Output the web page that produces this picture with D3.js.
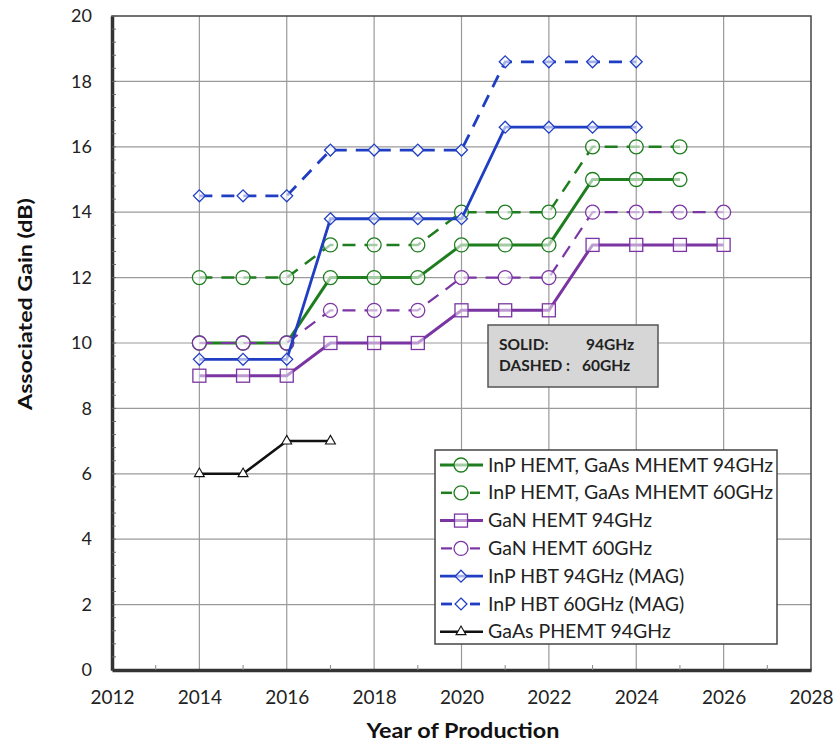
<!DOCTYPE html>
<html><head><meta charset="utf-8">
<script src="https://cdn.jsdelivr.net/npm/d3@7"></script>
<style>body{margin:0;background:#fff;} text{font-family:Lato,"Open Sans",sans-serif;}</style>
</head><body>
<svg id="c" width="836" height="748"></svg>
<script>
const years = [2014,2015,2016,2017,2018,2019,2020,2021,2022,2023,2024,2025,2026];
const inpHemt94 = [10,10,10,12,12,12,13,13,13,15,15,15];
const inpHemt60 = [12,12,12,13,13,13,14,14,14,16,16,16];
const gan94 = [9,9,9,10,10,10,11,11,11,13,13,13,13];
const gan60 = [10,10,10,11,11,11,12,12,12,14,14,14,14];
const inpHbt94 = [9.5,9.5,9.5,13.8,13.8,13.8,13.8,16.6,16.6,16.6,16.6];
const inpHbt60 = [14.5,14.5,14.5,15.9,15.9,15.9,15.9,18.6,18.6,18.6,18.6];
const gaasPhemt94 = [6,6,7,7];
const xTicks = [2012,2014,2016,2018,2020,2022,2024,2026,2028];
const yTicks = [0,2,4,6,8,10,12,14,16,18,20];
const seriesNames = ["InP HEMT, GaAs MHEMT 94GHz","InP HEMT, GaAs MHEMT 60GHz","GaN HEMT 94GHz","GaN HEMT 60GHz","InP HBT 94GHz (MAG)","InP HBT 60GHz (MAG)","GaAs PHEMT 94GHz"];

const GREEN="#1e7d1e", PURPLE="#7a35a3", BLUE="#1f3ec4", BLACK="#111";
const series = [
  {name:seriesNames[0], vals:inpHemt94, color:GREEN, dash:null, marker:"circle", w:3},
  {name:seriesNames[1], vals:inpHemt60, color:GREEN, dash:"13,9", marker:"circle", w:2.5},
  {name:seriesNames[2], vals:gan94, color:PURPLE, dash:null, marker:"square", w:3},
  {name:seriesNames[3], vals:gan60, color:PURPLE, dash:"13,9", marker:"circle", w:2.2},
  {name:seriesNames[4], vals:inpHbt94, color:BLUE, dash:null, marker:"diamond", w:2.8},
  {name:seriesNames[5], vals:inpHbt60, color:BLUE, dash:"13,9", marker:"diamond", w:2.8},
  {name:seriesNames[6], vals:gaasPhemt94, color:BLACK, dash:null, marker:"triangle", w:2.5}
];

const svg = d3.select("#c");
const L=112, R=811, T=16, B=670;
const x = d3.scaleLinear().domain([2012,2028]).range([L,R]);
const y = d3.scaleLinear().domain([0,20]).range([B,T]);

// grid
svg.append("g").selectAll("line").data(xTicks.slice(1,-1)).join("line")
  .attr("x1",d=>x(d)).attr("x2",d=>x(d)).attr("y1",T).attr("y2",B)
  .attr("stroke","#9a9a9a").attr("stroke-width",1.2);
svg.append("g").selectAll("line").data(yTicks.slice(1,-1)).join("line")
  .attr("x1",L).attr("x2",R).attr("y1",d=>y(d)).attr("y2",d=>y(d))
  .attr("stroke","#9a9a9a").attr("stroke-width",1.2);

// frame
svg.append("rect").attr("x",L).attr("y",T).attr("width",R-L).attr("height",B-T)
  .attr("fill","none").attr("stroke","#444").attr("stroke-width",1.5);

// axes
const yAxis = d3.axisLeft(y).tickValues(yTicks).tickSize(0).tickPadding(20).tickFormat(d3.format("d"));
const gy = svg.append("g").attr("transform",`translate(${L},0)`).call(yAxis);
gy.select(".domain").attr("stroke","#333").attr("stroke-width",3.5);
gy.selectAll("text").attr("font-size",18).attr("fill","#222").attr("font-family","Lato, sans-serif");
// minor y ticks
const yMinor = d3.range(0,20.01,0.4);
svg.append("g").selectAll("line").data(yMinor).join("line")
  .attr("x1",L).attr("x2",L+4).attr("y1",d=>y(d)).attr("y2",d=>y(d))
  .attr("stroke","#666").attr("stroke-width",1);

const xAxis = d3.axisBottom(x).tickValues(xTicks).tickSize(0).tickPadding(21).tickFormat(d3.format("d"));
const gx = svg.append("g").attr("transform",`translate(0,${B})`).call(xAxis);
gx.select(".domain").attr("stroke","#333").attr("stroke-width",3.5);
gx.selectAll("text").attr("font-size",19).attr("fill","#222").attr("font-family","Lato, sans-serif");
const xMinor = d3.range(2013,2028,2);
svg.append("g").selectAll("line").data(xMinor).join("line")
  .attr("x1",d=>x(d)).attr("x2",d=>x(d)).attr("y1",B).attr("y2",B-5)
  .attr("stroke","#888").attr("stroke-width",1);

svg.append("text").attr("x",463).attr("y",738).attr("text-anchor","middle")
  .attr("font-size",21).attr("font-weight","bold").attr("fill","#111")
  .attr("textLength",193).attr("lengthAdjust","spacingAndGlyphs").text("Year of Production");
svg.append("text").attr("transform",`translate(32,304) rotate(-90)`).attr("text-anchor","middle")
  .attr("font-size",19).attr("font-weight","bold").attr("fill","#111")
  .attr("textLength",212).attr("lengthAdjust","spacingAndGlyphs").text("Associated Gain (dB)");

function drawMarker(g, type, cx, cy, color){
  if(type==="circle"){
    g.append("circle").attr("cx",cx).attr("cy",cy).attr("r",7).attr("fill","#fff").attr("fill-opacity",0.6).attr("stroke",color).attr("stroke-width",1.3);
  } else if(type==="square"){
    g.append("rect").attr("x",cx-6.5).attr("y",cy-6.5).attr("width",13).attr("height",13).attr("fill","#fff").attr("fill-opacity",0.5).attr("stroke",color).attr("stroke-width",1.3);
  } else if(type==="diamond"){
    g.append("path").attr("d",d3.symbol(d3.symbolDiamond2,90)()).attr("transform",`translate(${cx},${cy})`).attr("fill","#fff").attr("fill-opacity",0.6).attr("stroke",color).attr("stroke-width",1.3);
  } else if(type==="triangle"){
    g.append("path").attr("d",d3.symbol(d3.symbolTriangle2,70)()).attr("transform",`translate(${cx},${cy})`).attr("fill","#fff").attr("stroke",color).attr("stroke-width",1.1);
  }
}

const line = d3.line().x(d=>x(d[0])).y(d=>y(d[1]));
series.forEach(s=>{
  const pts = s.vals.map((v,i)=>[years[i],v]);
  const g = svg.append("g");
  g.append("path").attr("d",line(pts)).attr("fill","none").attr("stroke",s.color)
    .attr("stroke-width",s.w).attr("stroke-dasharray",s.dash);
  pts.forEach(p=>drawMarker(g,s.marker,x(p[0]),y(p[1]),s.color));
});

// note box
const nb = svg.append("g");
nb.append("rect").attr("x",488).attr("y",325).attr("width",170).attr("height",62)
  .attr("fill","#d6d6d6").attr("stroke","#555").attr("stroke-width",1.5);
const nbt = [["SOLID:",499,350],["94GHz",586,350],["DASHED :",499,371],["60GHz",582,371]];
nbt.forEach(t=>nb.append("text").attr("x",t[1]).attr("y",t[2]).attr("font-size",15.5)
  .attr("font-weight","bold").attr("fill","#222").text(t[0]));

// legend
const lg = svg.append("g");
lg.append("rect").attr("x",435).attr("y",450).attr("width",342).attr("height",194)
  .attr("fill","#fff").attr("stroke","#444").attr("stroke-width",1.5);
series.forEach((s,i)=>{
  const cy = 465 + i*27.8;
  if(s.dash){
    lg.append("line").attr("x1",441).attr("x2",452).attr("y1",cy).attr("y2",cy).attr("stroke",s.color).attr("stroke-width",s.w);
    lg.append("line").attr("x1",470).attr("x2",480).attr("y1",cy).attr("y2",cy).attr("stroke",s.color).attr("stroke-width",s.w);
  } else {
    lg.append("line").attr("x1",440).attr("x2",483).attr("y1",cy).attr("y2",cy).attr("stroke",s.color).attr("stroke-width",s.w);
  }
  drawMarker(lg,s.marker,461,cy,s.color);
  lg.append("text").attr("x",488).attr("y",cy+6.5).attr("font-size",19.5).attr("fill","#222").text(s.name);
});
</script>
</body></html>
